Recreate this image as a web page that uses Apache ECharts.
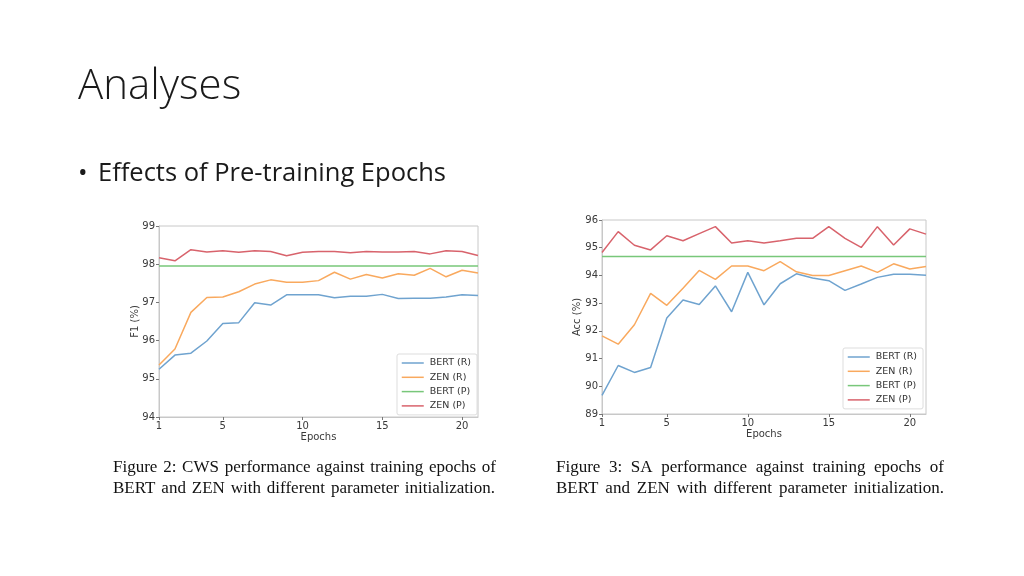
<!DOCTYPE html>
<html><head><meta charset="utf-8">
<script src="https://cdn.jsdelivr.net/npm/echarts@6/dist/echarts.min.js"></script>
<style>html,body{margin:0;padding:0;background:#fff}#c{width:1024px;height:576px}</style>
</head><body><div id="c"></div>
<script>
const epochs = [1,2,3,4,5,6,7,8,9,10,11,12,13,14,15,16,17,18,19,20,21];
const seriesNames = ['BERT (R)','ZEN (R)','BERT (P)','ZEN (P)'];
const xTicks = [1,5,10,15,20];

// Figure 2: CWS F1 (%)
const cwsBertR = [95.25,95.62,95.67,95.99,96.45,96.47,96.99,96.93,97.20,97.20,97.20,97.12,97.16,97.16,97.21,97.10,97.11,97.11,97.14,97.20,97.18];
const cwsZenR  = [95.36,95.78,96.74,97.13,97.14,97.28,97.48,97.59,97.53,97.53,97.57,97.79,97.61,97.73,97.64,97.75,97.71,97.89,97.67,97.84,97.77];
const cwsBertP = [97.95,97.95,97.95,97.95,97.95,97.95,97.95,97.95,97.95,97.95,97.95,97.95,97.95,97.95,97.95,97.95,97.95,97.95,97.95,97.95,97.95];
const cwsZenP  = [98.17,98.09,98.38,98.32,98.35,98.31,98.35,98.33,98.22,98.31,98.33,98.33,98.30,98.33,98.32,98.32,98.33,98.27,98.35,98.33,98.23];

// Figure 3: SA Acc (%)
const saBertR = [89.67,90.75,90.50,90.68,92.46,93.11,92.95,93.62,92.69,94.11,92.94,93.70,94.06,93.91,93.81,93.46,93.69,93.93,94.04,94.04,94.01];
const saZenR  = [91.82,91.52,92.22,93.35,92.92,93.54,94.18,93.86,94.34,94.34,94.17,94.50,94.13,94.00,94.00,94.17,94.34,94.11,94.42,94.23,94.32];
const saBertP = [94.68,94.68,94.68,94.68,94.68,94.68,94.68,94.68,94.68,94.68,94.68,94.68,94.68,94.68,94.68,94.68,94.68,94.68,94.68,94.68,94.68];
const saZenP  = [94.83,95.58,95.09,94.92,95.43,95.25,95.51,95.76,95.17,95.25,95.17,95.25,95.34,95.34,95.76,95.34,95.01,95.76,95.10,95.68,95.49];

const titleText = 'Analyses';
const bulletText = 'Effects of Pre-training Epochs';
const caption2 = ['Figure 2: CWS performance against training epochs of','BERT and ZEN with different parameter initialization.'];
const caption3 = ['Figure 3:  SA performance against training epochs of','BERT and ZEN with different parameter initialization.'];

const colors = ['#6fa3cf','#f9a95e','#78c77a','#d8636c'];
const tickFont = {fontFamily:'DejaVu Sans', fontSize:10, color:'#3a3a3a'};

function pairs(arr){ return epochs.map((e,i)=>[e,arr[i]]); }

function xAxis(gi){
  return {type:'value', gridIndex:gi, min:1, max:21,
    axisLine:{show:true,lineStyle:{color:'#c8c8c8'}},
    axisTick:{show:true, length:3, lineStyle:{color:'#777'}, customValues:xTicks},
    axisLabel:Object.assign({margin:4, customValues:xTicks}, tickFont),
    splitLine:{show:false},
    name:'Epochs', nameLocation:'middle', nameGap:15, nameMoveOverlap:false,
    nameTextStyle:{fontFamily:'DejaVu Sans', fontSize:10, color:'#3a3a3a'}};
}
function yAxis(gi,min,max,name,gap){
  return {type:'value', gridIndex:gi, min:min, max:max, interval:1,
    axisLine:{show:true,lineStyle:{color:'#c8c8c8'}},
    axisTick:{show:true, length:3, lineStyle:{color:'#777'}},
    axisLabel:Object.assign({margin:4}, tickFont),
    splitLine:{show:false},
    name:name, nameLocation:'middle', nameGap:gap, nameRotate:90, nameMoveOverlap:false,
    nameTextStyle:{fontFamily:'DejaVu Sans', fontSize:10, color:'#3a3a3a'}};
}
function lineSeries(name, data, gi, ci){
  return {type:'line', name:name, xAxisIndex:gi, yAxisIndex:gi, data:pairs(data),
    symbol:'none', lineStyle:{width:1.5, color:colors[ci]}, itemStyle:{color:colors[ci]},
    animation:false, z:3};
}
function legend(left, top){
  return {orient:'vertical', left:left, top:top, data:seriesNames,
    itemWidth:22, itemHeight:10, itemGap:4.3, padding:[4,6,4,4],
    itemStyle:{opacity:0}, lineStyle:{width:1.5},
    borderColor:'#dddddd', borderWidth:1, borderRadius:2, backgroundColor:'rgba(255,255,255,0.9)',
    textStyle:{fontFamily:'DejaVu Sans', fontSize:9.5, color:'#333', padding:[0,0,0,1]},
    selectedMode:false};
}

// justified caption lines
const mctx = document.createElement('canvas').getContext('2d');
function justifiedLine(text, x0, x1, y, font){
  mctx.font = font;
  const words = text.split(/\s+/);
  const total = words.reduce((s,w)=>s+mctx.measureText(w).width,0);
  const gap = (x1-x0-total)/(words.length-1);
  let x = x0; const els = [];
  words.forEach(w=>{
    els.push({type:'text', left:x, top:y, style:{text:w, font:font, fill:'#111'}});
    x += mctx.measureText(w).width + gap;
  });
  return els;
}
const capFont = '17px "Liberation Serif", "Times New Roman", serif';
let graphics = [
  {type:'text', left:78, top:66, style:{text:titleText, font:'300 42px "Open Sans", sans-serif', fill:'#1a1a1a'}},
  {type:'text', left:78, top:161, style:{text:'•', font:'25.5px "Open Sans", sans-serif', fill:'#1a1a1a'}},
  {type:'text', left:98, top:161, style:{text:bulletText, font:'25.5px "Open Sans", sans-serif', fill:'#1a1a1a'}}
];
graphics = graphics
  .concat(justifiedLine(caption2[0],113,496,459.5,capFont))
  .concat(justifiedLine(caption2[1],113,495,480.5,capFont))
  .concat(justifiedLine(caption3[0],556,944,459.5,capFont))
  .concat(justifiedLine(caption3[1],556,944,480.5,capFont));

const chart = echarts.init(document.getElementById('c'), null, {renderer:'canvas'});
chart.setOption({
  backgroundColor:'#ffffff',
  animation:false,
  grid:[
    {left:159, top:226, width:319, height:191, show:true, borderColor:'#c8c8c8', borderWidth:1, backgroundColor:'transparent'},
    {left:602, top:220, width:324, height:194, show:true, borderColor:'#c8c8c8', borderWidth:1, backgroundColor:'transparent'}
  ],
  xAxis:[xAxis(0), xAxis(1)],
  yAxis:[yAxis(0,94,99,'F1 (%)',19), yAxis(1,89,96,'Acc (%)',20)],
  legend:[legend(397,354), legend(843,348)],
  series:[
    lineSeries(seriesNames[0], cwsBertR, 0, 0),
    lineSeries(seriesNames[1], cwsZenR, 0, 1),
    lineSeries(seriesNames[2], cwsBertP, 0, 2),
    lineSeries(seriesNames[3], cwsZenP, 0, 3),
    lineSeries(seriesNames[0], saBertR, 1, 0),
    lineSeries(seriesNames[1], saZenR, 1, 1),
    lineSeries(seriesNames[2], saBertP, 1, 2),
    lineSeries(seriesNames[3], saZenP, 1, 3)
  ],
  graphic:graphics
});
</script></body></html>
